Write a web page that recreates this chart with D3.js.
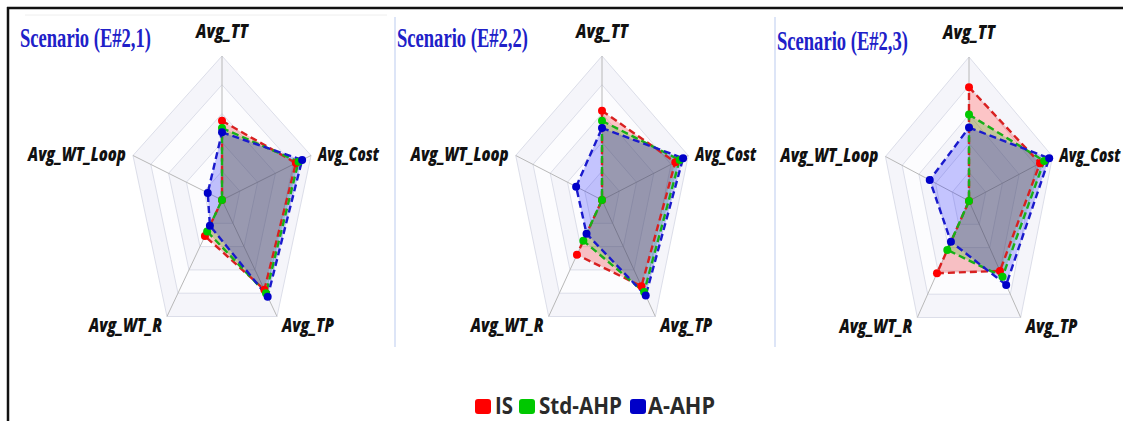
<!DOCTYPE html>
<html>
<head>
<meta charset="utf-8">
<script src="https://cdn.jsdelivr.net/npm/d3@7"></script>
<style>
  html, body { margin: 0; padding: 0; background: #fff; }
  svg { display: block; }
</style>
</head>
<body>
<div id="chart"></div>
<script>
// ---- data ----
const axes = ['Avg_TT', 'Avg_Cost', 'Avg_TP', 'Avg_WT_R', 'Avg_WT_Loop'];
const scenarios = ['Scenario (E#2,1)', 'Scenario (E#2,2)', 'Scenario (E#2,3)'];
const seriesNames = ['IS', 'Std-AHP', 'A-AHP'];

// values per scenario, same order as axes (share of full radius)
const isValues = [
  [0.55, 0.83, 0.77, 0.31, 0],
  [0.62, 0.85, 0.74, 0.47, 0],
  [0.79, 0.85, 0.60, 0.62, 0]
];
const stdAhpValues = [
  [0.50, 0.86, 0.80, 0.27, 0],
  [0.55, 0.90, 0.79, 0.35, 0],
  [0.60, 0.90, 0.65, 0.42, 0]
];
const aAhpValues = [
  [0.47, 0.90, 0.83, 0.22, 0.16],
  [0.50, 0.94, 0.82, 0.29, 0.30],
  [0.51, 0.96, 0.72, 0.35, 0.47]
];
const gridLevels = [0.2, 0.4, 0.6, 0.8, 1.0];

// ---- layout / style ----
const W = 1123, H = 421;
const panels = [
  { cx: 222, cy: 200, sx: 0.65, titleX: 20, titleY: 47 },
  { cx: 602, cy: 200, sx: 0.63, titleX: 397, titleY: 47 },
  { cx: 969, cy: 201, sx: 0.61, titleX: 777, titleY: 50 }
];
const separators = [395, 775];
const lineColors = { 'IS': '#d82020', 'Std-AHP': '#18b018', 'A-AHP': '#1a1acc' };
const dotColors = { 'IS': '#ff0000', 'Std-AHP': '#00c800', 'A-AHP': '#0000c8' };
const fillColors = { 'IS': 'rgba(255,0,0,0.22)', 'Std-AHP': 'rgba(0,200,0,0.22)', 'A-AHP': 'rgba(0,0,255,0.22)' };
const labelPos = {
  'Avg_TT':      { dx: 0,  dy: -18, anchor: 'middle', len: 52 },
  'Avg_Cost':    { dx: 7,  dy: 5,   anchor: 'start',  len: 61 },
  'Avg_TP':      { dx: 5,  dy: 16,  anchor: 'start',  len: 52 },
  'Avg_WT_R':    { dx: -5, dy: 16,  anchor: 'end',    len: 73 },
  'Avg_WT_Loop': { dx: -7, dy: 5,   anchor: 'end',    len: 98 }
};

const svg = d3.select('#chart').append('svg')
  .attr('width', W).attr('height', H);

// squeeze a text horizontally to a target width (the source image is condensed)
function fitText(sel, x, y, target) {
  const w = sel.node().getComputedTextLength();
  sel.attr('x', 0).attr('y', 0)
    .attr('transform', `translate(${x},${y}) scale(${target / w},1)`);
}

// frame
svg.append('line').attr('x1', 7).attr('x2', W).attr('y1', 8).attr('y2', 8)
  .attr('stroke', '#111').attr('stroke-width', 2.5);
svg.append('line').attr('x1', 8).attr('x2', 8).attr('y1', 7).attr('y2', H)
  .attr('stroke', '#111').attr('stroke-width', 2.5);
svg.append('line').attr('x1', 25).attr('x2', 387).attr('y1', 15).attr('y2', 15)
  .attr('stroke', '#eeeeee').attr('stroke-width', 1);
separators.forEach(x => {
  svg.append('line').attr('x1', x).attr('x2', x).attr('y1', 17).attr('y2', 347)
    .attr('stroke', '#d2dcf4').attr('stroke-width', 1.5);
});

const r = d3.scaleLinear().domain([0, 1]).range([0, 144]);
const angle = d3.scaleLinear().domain([0, axes.length]).range([0, 2 * Math.PI]);

panels.forEach((p, k) => {
  const g = svg.append('g');
  const pt = (i, v) => [p.cx + p.sx * r(v) * Math.sin(angle(i)), p.cy - r(v) * Math.cos(angle(i))];
  const poly = d3.line().curve(d3.curveLinearClosed);

  // grid bands, outer first
  gridLevels.slice().reverse().forEach((lv, j) => {
    g.append('path')
      .attr('d', poly(axes.map((a, i) => pt(i, lv))))
      .attr('fill', j % 2 === 0 ? '#f5f5fa' : '#fcfcfe')
      .attr('stroke', '#dcdee9').attr('stroke-width', 1);
  });
  // spokes
  axes.forEach((a, i) => {
    const [x, y] = pt(i, 1);
    g.append('line').attr('x1', p.cx).attr('y1', p.cy).attr('x2', x).attr('y2', y)
      .attr('stroke', '#b8b8b8').attr('stroke-width', 1);
  });

  // series
  const vals = [isValues[k], stdAhpValues[k], aAhpValues[k]];
  seriesNames.forEach((name, s) => {
    const pts = vals[s].map((v, i) => pt(i, v));
    g.append('path').attr('d', poly(pts)).attr('fill', fillColors[name]).attr('stroke', 'none');
  });
  seriesNames.forEach((name, s) => {
    const pts = vals[s].map((v, i) => pt(i, v));
    g.append('path').attr('d', poly(pts)).attr('fill', 'none')
      .attr('stroke', lineColors[name]).attr('stroke-width', 2.4)
      .attr('stroke-dasharray', '7,4');
  });
  seriesNames.forEach((name, s) => {
    g.selectAll(null).data(vals[s]).enter().append('circle')
      .attr('cx', (v, i) => pt(i, v)[0])
      .attr('cy', (v, i) => pt(i, v)[1])
      .attr('r', 4)
      .attr('fill', dotColors[name]);
  });

  // axis labels
  axes.forEach((a, i) => {
    const [x, y] = pt(i, 1);
    const lp = labelPos[a];
    const t = g.append('text')
      .attr('text-anchor', lp.anchor)
      .attr('font-family', '"Open Sans", "DejaVu Sans", sans-serif')
      .attr('font-weight', 800).attr('font-style', 'italic')
      .attr('font-size', 19).attr('fill', '#111')
      .text(a);
    fitText(t, x + lp.dx, y + lp.dy, lp.len);
  });

  // title
  const title = g.append('text')
    .attr('font-family', '"Liberation Serif", "Times New Roman", serif')
    .attr('font-weight', 'bold').attr('font-size', 27)
    .attr('fill', '#2020c8')
    .text(scenarios[k]);
  fitText(title, p.titleX, p.titleY, 131);
});

// legend
const legendItems = [
  { name: 'IS', box: 475, text: 495, len: 18 },
  { name: 'Std-AHP', box: 519, text: 539, len: 83 },
  { name: 'A-AHP', box: 630, text: 648, len: 67 }
];
const legend = svg.append('g');
legendItems.forEach(d => {
  legend.append('rect').attr('x', d.box).attr('y', 399).attr('width', 16).attr('height', 15)
    .attr('rx', 3).attr('fill', dotColors[d.name]);
  const t = legend.append('text')
    .attr('font-family', '"Open Sans", "Noto Sans", sans-serif')
    .attr('font-weight', 700).attr('font-size', 24).attr('fill', '#2a2a2a')
    .text(d.name);
  fitText(t, d.text, 414, d.len);
});
</script>
</body>
</html>
